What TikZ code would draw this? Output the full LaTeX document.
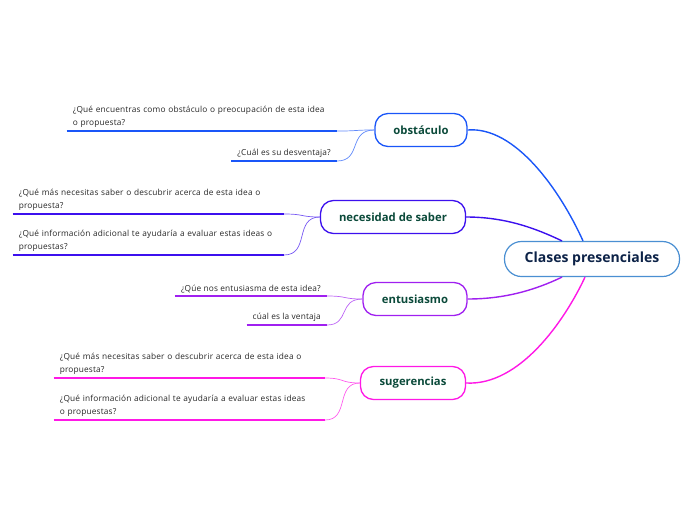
\documentclass[tikz,border=0pt]{standalone}
\usepackage{fontspec}
\setmainfont{Open Sans}
\usetikzlibrary{positioning}

\definecolor{raiz}{HTML}{4A8FD2}
\definecolor{textoraiz}{HTML}{0D2348}
\definecolor{textotema}{HTML}{0B4A3A}
\definecolor{obsazul}{HTML}{1A56F8}
\definecolor{necazul}{HTML}{3C10EE}
\definecolor{entvio}{HTML}{A020F0}
\definecolor{sugmag}{HTML}{FF18E6}

\begin{document}
\begin{tikzpicture}[x=1pt,y=-1pt,
  raiznodo/.style={draw=raiz,line width=1.2pt,fill=white,rounded corners=17pt,
    minimum width=175pt,minimum height=35pt,text=textoraiz,
    font=\fontsize{14}{16}\selectfont\bfseries},
  tema/.style={draw,line width=1.3pt,fill=white,rounded corners=13pt,
    minimum height=33pt,text=textotema,font=\fontsize{11.3}{13}\selectfont\bfseries},
  hoja/.style={anchor=south east,inner xsep=6pt,inner ysep=3pt,align=left,
    text=black!85,font=\fontsize{8.3}{13}\selectfont\addfontfeature{LetterSpace=2}},
  raya/.style={line width=2.4pt},
  rama/.style={line width=1.4pt},
  ramita/.style={line width=0.7pt}]
   \useasboundingbox (0,0) rectangle (696,520);

   % nodos
   \node[raiznodo] (cp) at (592,259) {Clases presenciales};
   \node[tema,draw=obsazul,minimum width=92pt] (obs) at (421,130) {obstáculo};
   \node[tema,draw=necazul,minimum width=145pt] (nec) at (393,217) {necesidad de saber};
   \node[tema,draw=entvio,minimum width=104pt] (ent) at (415,299) {entusiasmo};
   \node[tema,draw=sugmag,minimum width=105pt] (sug) at (413,383) {sugerencias};

   % hojas
   \node[hoja,text width=258pt] (o1) at (337,131)
     {¿Qué encuentras como obstáculo o preocupación de esta idea\\o propuesta?};
   \node[hoja] (o2) at (337,161) {¿Cuál es su desventaja?};
   \node[hoja,text width=259pt] (n1) at (284,214)
     {¿Qué más necesitas saber o descubrir acerca de esta idea o\\propuesta?};
   \node[hoja,text width=259pt] (n2) at (284,255)
     {¿Qué información adicional te ayudaría a evaluar estas ideas o\\propuestas?};
   \node[hoja] (e1) at (327,296) {¿Qúe nos entusiasma de esta idea?};
   \node[hoja] (e2) at (327,325) {cúal es la ventaja};
   \node[hoja,text width=259pt] (s1) at (325,378)
     {¿Qué más necesitas saber o descubrir acerca de esta idea o\\propuesta?};
   \node[hoja,text width=259pt] (s2) at (325,420)
     {¿Qué información adicional te ayudaría a evaluar estas ideas\\o propuestas?};

   % rayas bajo las hojas
   \draw[raya,obsazul] (o1.south west) -- (o1.south east);
   \draw[raya,obsazul] (o2.south west) -- (o2.south east);
   \draw[raya,necazul] (n1.south west) -- (n1.south east);
   \draw[raya,necazul] (n2.south west) -- (n2.south east);
   \draw[raya,entvio] (e1.south west) -- (e1.south east);
   \draw[raya,entvio] (e2.south west) -- (e2.south east);
   \draw[raya,sugmag] (s1.south west) -- (s1.south east);
   \draw[raya,sugmag] (s2.south west) -- (s2.south east);

   % ramas principales
   \draw[rama,obsazul] (obs.east) .. controls (515,126) and (560,190) .. ([xshift=-9pt]cp.north);
   \draw[rama,necazul] (nec.east) .. controls (505,217) and (535,228) .. ([xshift=-30pt]cp.north);
   \draw[rama,entvio] (ent.east) .. controls (505,299) and (535,290) .. ([xshift=-30pt]cp.south);
   \draw[rama,sugmag] (sug.east) .. controls (520,386) and (565,320) .. ([xshift=-7pt]cp.south);

   % ramitas
   \draw[ramita,obsazul!70] (o1.south east) .. controls (360,131) and (352,130) .. (obs.west);
   \draw[ramita,obsazul!70] (o2.south east) .. controls (362,161) and (348,130) .. (obs.west);
   \draw[ramita,necazul!70] (n1.south east) .. controls (305,214) and (300,217) .. (nec.west);
   \draw[ramita,necazul!70] (n2.south east) .. controls (310,255) and (294,217) .. (nec.west);
   \draw[ramita,entvio!70] (e1.south east) .. controls (348,296) and (342,299) .. (ent.west);
   \draw[ramita,entvio!70] (e2.south east) .. controls (350,325) and (338,299) .. (ent.west);
   \draw[ramita,sugmag!70] (s1.south east) .. controls (345,378) and (340,383) .. (sug.west);
   \draw[ramita,sugmag!70] (s2.south east) .. controls (350,420) and (335,383) .. (sug.west);

\end{tikzpicture}
\end{document}
